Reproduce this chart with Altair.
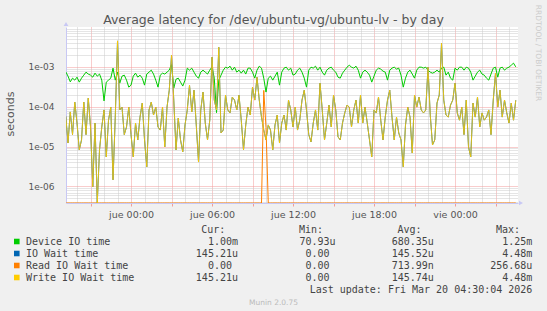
import altair as alt
import pandas as pd

# ---------------- data (microseconds, 10-minute steps, UTC) ----------------
START = "2026-03-18T19:10:00Z"
N_POINTS = 201

device_us = [
    750, 585, 420, 521, 465, 552, 414, 521, 620, 737,
    660, 620, 552, 696, 585, 660, 465, 140, 414, 465,
    521, 930, 465, 737, 391, 585, 620, 465, 310, 348,
    585, 696, 552, 620, 521, 348, 660, 737, 827, 660,
    465, 310, 620, 696, 660, 737, 827, 1150, 293, 490,
    521, 414, 330, 465, 930, 827, 930, 737, 585, 521,
    737, 827, 737, 660, 827, 1000, 521, 71, 465, 620,
    827, 983, 930, 1040, 827, 983, 737, 827, 696, 827,
    660, 930, 930, 737, 521, 827, 1040, 930, 521, 233,
    521, 585, 465, 585, 737, 348, 737, 930, 983, 827,
    930, 620, 660, 827, 930, 737, 521, 310, 827, 983,
    930, 1040, 827, 983, 737, 620, 827, 930, 983, 827,
    737, 552, 521, 696, 827, 983, 1100, 983, 930, 1040,
    827, 521, 737, 827, 737, 620, 414, 585, 827, 930,
    880, 780, 737, 465, 827, 930, 983, 880, 930, 620,
    310, 521, 737, 827, 660, 521, 827, 983, 983, 930,
    983, 827, 737, 696, 737, 827, 737, 930, 983, 620,
    737, 521, 465, 930, 827, 983, 983, 827, 983, 930,
    737, 465, 585, 737, 827, 660, 620, 521, 465, 660,
    930, 983, 552, 930, 983, 827, 930, 983, 1100, 1240, 1000,
]

write_us = [
    58, 12.3, 74, 20, 131, 39, 8.3, 14.7, 131, 20,
    165, 31, 0.98, 39, 0, 8.3, 31, 83, 5.5, 46,
    98, 1.47, 55, 4480, 83, 98, 20, 31, 98, 20,
    5.5, 39, 14.7, 55, 124, 14.7, 3.1, 83, 131, 62,
    98, 31, 26, 98, 9.8, 98, 261, 1960, 147, 8.3,
    52, 14.7, 7.4, 35, 83, 348, 74, 261, 35, 4.1,
    83, 233, 39, 14.7, 46, 1750, 147, 83, 3100, 22,
    26, 196, 83, 70, 175, 147, 83, 196, 46, 8.3,
    35, 98, 62, 310, 147, 552, 147, 55, 26, 14.7,
    35, 26, 8.3, 35, 62, 12.3, 39, 62, 26, 147,
    83, 31, 98, 26, 46, 147, 261, 83, 20, 13.1,
    39, 83, 26, 391, 83, 14.7, 39, 110, 31, 196,
    83, 17.5, 14.7, 39, 70, 110, 98, 31, 83, 147,
    39, 196, 39, 98, 39, 14.7, 5.5, 83, 70, 175,
    46, 14.7, 55, 147, 261, 55, 14.7, 55, 22, 14.7,
    3.1, 35, 98, 55, 6.9, 196, 98, 175, 83, 70,
    83, 983, 62, 11, 14.7, 124, 196, 3900, 147, 62,
    55, 110, 147, 391, 70, 46, 98, 20, 147, 9.8,
    5.5, 124, 55, 175, 31, 70, 46, 55, 83, 20,
    147, 696, 98, 261, 55, 147, 70, 39, 124, 46, 145.21,
]

# IO wait is hidden under the write line in the picture: read as the same values
io_wait_us = list(write_us)

read_us = [0.0] * 88 + [256.68, 30.0] + [0.0] * 111

series_names = ["Device IO time", "IO Wait time", "Read IO Wait time", "Write IO Wait time"]
series_colors = ["#00CC00", "#0066B3", "#FF8000", "#FFCC00"]
cur_vals = ["1.00m", "145.21u", "0.00", "145.21u"]
min_vals = ["70.93u", "0.00", "0.00", "0.00"]
avg_vals = ["680.35u", "145.52u", "713.99n", "145.74u"]
max_vals = ["1.25m", "4.48m", "256.68u", "4.48m"]
col_headers = ["Cur:", "Min:", "Avg:", "Max:"]

TITLE = "Average latency for /dev/ubuntu-vg/ubuntu-lv - by day"
LAST_UPDATE = "Last update: Fri Mar 20 04:30:04 2026"
VERSION = "Munin 2.0.75"
SIDE = "RRDTOOL / TOBI OETIKER"

# ---------------- frame ----------------
times = pd.date_range(START, periods=N_POINTS, freq="10min")
df = pd.DataFrame({
    "t": times.strftime("%Y-%m-%dT%H:%M:%SZ"),
    "device": device_us,
    "iowait": io_wait_us,
    "read": read_us,
    "write": write_us,
})

W, H = 452, 176
PAD = {"left": 66, "top": 27, "right": 29, "bottom": 108}

x_dom = [
    alt.DateTime(year=2026, month=3, date=18, hours=19, minutes=11, utc=True),
    alt.DateTime(year=2026, month=3, date=20, hours=4, minutes=40, utc=True),
]
hour_ticks = [int(ts.value // 10**6) for ts in
              pd.date_range("2026-03-18T20:00:00Z", "2026-03-20T04:00:00Z", freq="h")]

MINOR = "#CBCBCB"
MAJOR = "#F29A9A"
LAV = "#C8C8F4"

xaxis = alt.Axis(
    values=hour_ticks, title=None, grid=True,
    gridColor={"condition": {"test": "utchours(datum.value) % 3 == 0", "value": MAJOR}, "value": MINOR},
    gridDash=[1, 1], gridWidth=1,
    tickColor={"condition": {"test": "utchours(datum.value) % 3 == 0", "value": MAJOR}, "value": "transparent"},
    tickSize=3,
    domainColor=LAV,
    labelExpr="utchours(datum.value) % 6 == 0 ? ['dom','lun','mar','mié','jue','vie','sáb'][utcday(datum.value)] + ' ' + utcFormat(datum.value, '%H:%M') : ''",
    labelFont="DejaVu Sans", labelFontSize=9.5, labelColor="#555555",
    labelPadding=3, labelOverlap=False, labelFlush=False,
)

y_ticks = [k * 10.0 ** e for e in range(-7, -2) for k in range(1, 10)]
y_ticks = [v for v in y_ticks if 3.9e-7 <= v < 1e-2]
is_decade = "abs(log(datum.value)/LN10 - round(log(datum.value)/LN10)) < 1e-6"
yaxis = alt.Axis(
    values=y_ticks, title=None, grid=True,
    gridColor={"condition": {"test": is_decade, "value": MAJOR}, "value": MINOR},
    gridDash=[1, 1], gridWidth=1,
    ticks=False, domainColor=LAV,
    labelExpr=is_decade + " ? replace(format(datum.value, '.0e'), 'e-', 'e-0') : ''",
    labelFont="DejaVu Sans", labelFontSize=9, labelColor="#555555",
    labelPadding=12, labelOverlap=False, labelFlush=False,
)

xscale = alt.Scale(type="utc", domain=x_dom)
yscale = alt.Scale(type="log", domain=[3.85e-7, 1e-2], clamp=True, nice=False)

base = alt.Chart(df)


def series_line(col, color, opacity=1.0, width=1.0):
    return base.transform_calculate(
        v=f"max(datum['{col}'] * 1e-6, 1e-12)"
    ).mark_line(color=color, strokeWidth=width, opacity=opacity, clip=True).encode(
        x=alt.X("t:T", scale=xscale, axis=xaxis),
        y=alt.Y("v:Q", scale=yscale, axis=yaxis),
    )


layers = [
    series_line("device", series_colors[0]),
    series_line("iowait", series_colors[1], width=1.0),
    series_line("read", series_colors[2]),
    series_line("write", series_colors[3], opacity=0.85),
]


def txt(x, y, s, size=10, font="DejaVu Sans Mono", color="#444444", align="left", angle=0):
    return alt.Chart(pd.DataFrame({"s": [s]})).mark_text(
        font=font, fontSize=size, color=color, align=align, baseline="middle", angle=angle
    ).encode(x=alt.value(x), y=alt.value(y), text="s:N")


# title, axis title, side text
layers.append(txt(207.5, -7, TITLE, size=12.5, font="DejaVu Sans", color="#555555", align="center"))
layers.append(txt(-55, 87, "seconds", size=11, font="DejaVu Sans", color="#555555", align="center", angle=270))
layers.append(txt(472, 26, SIDE, size=7.5, font="DejaVu Sans", color="#CCCCCC", align="center", angle=90))

# axis arrows
layers.append(alt.Chart(pd.DataFrame({"s": [0]})).mark_point(
    shape="triangle-up", filled=True, size=22, color=LAV, opacity=1).encode(
    x=alt.value(0), y=alt.value(-3)))
layers.append(alt.Chart(pd.DataFrame({"s": [0]})).mark_point(
    shape="triangle-right", filled=True, size=22, color=LAV, opacity=1).encode(
    x=alt.value(W + 3), y=alt.value(H)))

# legend table
col_right = [172, 269.5, 367.8, 466.4]
head_right = [159.4, 257, 355.6, 454]
row0 = 202.5
dy = 12
for j, h in enumerate(col_headers):
    layers.append(txt(head_right[j], row0, h, align="right"))
for i, name in enumerate(series_names):
    y = row0 + dy * (i + 1)
    layers.append(alt.Chart(pd.DataFrame({"s": [0]})).mark_square(
        size=31, filled=True, color=series_colors[i], opacity=1).encode(
        x=alt.value(-49.2), y=alt.value(y)))
    layers.append(txt(-40, y, name))
    for j, vals in enumerate([cur_vals, min_vals, avg_vals, max_vals]):
        s = vals[i]
        xr = col_right[j] if s[-1].isalpha() else col_right[j] - 6
        layers.append(txt(xr, y, s, align="right"))
layers.append(txt(466.4, row0 + dy * 5, LAST_UPDATE, align="right"))
layers.append(txt(207.5, 275.5, VERSION, size=7.5, font="DejaVu Sans", color="#BBBBBB", align="center"))

chart = alt.layer(*layers).properties(
    width=W, height=H, padding=PAD,
    autosize=alt.AutoSizeParams(type="none"),
    background="#F0F0F0",
).configure_view(fill="white", stroke=None)

chart.save("out.html", embed_options={"renderer": "svg", "actions": False})
